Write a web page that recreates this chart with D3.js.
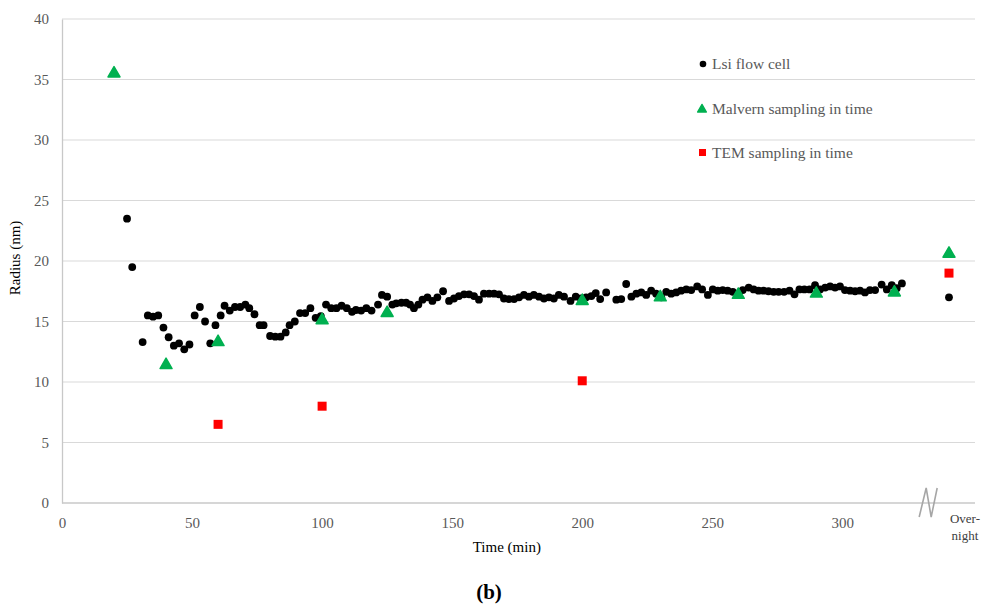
<!DOCTYPE html>
<html>
<head>
<meta charset="utf-8">
<script src="https://cdn.jsdelivr.net/npm/d3@7"></script>
<style>
  body { margin: 0; background: #fff; }
  svg text { font-family: "Liberation Serif", Tinos, "Times New Roman", "DejaVu Serif", serif !important; }
</style>
</head>
<body>
<div class="chart"></div>
<script>
// Lsi flow cell readings (min, nm)
var lsiTime = [25, 27, 31, 33, 35, 37, 39, 41, 43, 45, 47, 49, 51, 53, 55, 57, 59, 61, 62.5, 64.5,
    66.5, 68.5, 70.5, 72, 74, 76, 77.5, 80, 82, 84, 86, 87.5, 89.5, 91.5, 93.5, 95.5, 97.5, 99.5,
    101.5, 103.5, 105.5, 107.5, 109.5, 111.5, 113, 115, 117, 119, 121.5, 123, 125, 127, 128.5, 130.5,
    132.3, 133.8, 135.3, 137, 138.6, 140.5, 142.4, 144.3, 146.5, 148.8, 150.7, 152.6, 154.6, 156.5,
    158.4, 160.3, 162.2, 164.2, 166.1, 168, 169.9, 171.8, 173.8, 175.7, 177.6, 179.5, 181.4, 183.4,
    185.3, 187.2, 189.1, 191, 193, 195.5, 197.5, 199.5, 201.5, 203.5, 205.2, 206.9, 209.2, 213.1,
    215, 216.9, 218.9, 220.8, 222.7, 224.6, 226.5, 228.4, 230.4, 232.3, 234.2, 236.1, 238, 240,
    241.9, 244.2, 246.1, 248.3, 250.2, 252.1, 254, 255.9, 257.9, 259.8, 261.7, 264, 265.9, 267.8,
    269.7, 271.6, 273.6, 275.5, 277.6, 279.7, 281.6, 283.5, 285.4, 287.4, 289.5, 291.4, 293.4,
    295.3, 297.2, 299.1, 301, 303, 304.9, 306.8, 308.7, 310.6, 312.6, 315.1, 317.1, 319, 320.9, 322.9, 341];
var lsiRadius = [23.5, 19.5, 13.3, 15.5, 15.4, 15.5, 14.5, 13.7, 13.0, 13.2, 12.7, 13.1, 15.5, 16.2, 15.0, 13.2, 14.7, 15.5, 16.3, 15.9,
    16.2, 16.2, 16.4, 16.1, 15.6, 14.7, 14.7, 13.8, 13.75, 13.75, 14.1, 14.7, 15.0, 15.7, 15.7, 16.1, 15.3, 15.45,
    16.4, 16.1, 16.1, 16.3, 16.1, 15.8, 15.95, 15.9, 16.1, 15.9, 16.4, 17.2, 17.05, 16.4, 16.5, 16.55,
    16.55, 16.4, 16.1, 16.4, 16.8, 17.0, 16.7, 17.0, 17.5, 16.7, 16.9, 17.1, 17.25, 17.25,
    17.1, 16.8, 17.3, 17.3, 17.3, 17.25, 16.9, 16.85, 16.85, 17.0, 17.2, 17.05, 17.2, 17.05,
    16.9, 17.0, 16.9, 17.2, 17.05, 16.7, 17.05, 16.9, 17.0, 17.1, 17.35, 16.85, 17.4, 16.8,
    16.85, 18.1, 17.05, 17.3, 17.4, 17.2, 17.55, 17.3, 17.0, 17.45, 17.3, 17.4, 17.55, 17.65,
    17.6, 17.9, 17.65, 17.2, 17.65, 17.55, 17.6, 17.55, 17.45, 17.3, 17.6, 17.8, 17.65, 17.55,
    17.55, 17.5, 17.45, 17.45, 17.45, 17.55, 17.25, 17.65, 17.65, 17.65, 18.0, 17.65, 17.8,
    17.9, 17.8, 17.9, 17.6, 17.55, 17.5, 17.55, 17.4, 17.6, 17.6, 18.05, 17.65, 18.0, 17.75, 18.15, 17.0];

// Malvern sampling
var malvernTime = [20, 40, 60, 100, 125, 200, 230, 260, 290, 320, 341];
var malvernRadius = [35.5, 11.4, 13.3, 15.1, 15.7, 16.7, 17.0, 17.2, 17.3, 17.4, 20.6];

// TEM sampling
var temTime = [60, 100, 200, 341];
var temRadius = [6.5, 8.0, 10.1, 19.0];

var xTicks = [0, 50, 100, 150, 200, 250, 300];
var yTicks = [0, 5, 10, 15, 20, 25, 30, 35, 40];
var overnightTime = 341;
var legendLabels = ["Lsi flow cell", "Malvern sampling in time", "TEM sampling in time"];

var W = 983, H = 605;
var margin = {top: 19, right: 8, bottom: 102, left: 62};
var width = W - margin.left - margin.right;
var height = H - margin.top - margin.bottom;

var svg = d3.select(".chart").append("svg").attr("width", W).attr("height", H);
var g = svg.append("g").attr("transform", "translate(" + margin.left + "," + margin.top + ")");

var x = d3.scaleLinear().domain([0, 351]).range([0, width]);
var y = d3.scaleLinear().domain([0, 40]).range([height, 0]);

// gridlines
g.append("g").selectAll("line").data(yTicks.filter(function(d){ return d > 0; })).enter()
    .append("line")
    .attr("x1", 0).attr("x2", width)
    .attr("y1", function(d){ return y(d); }).attr("y2", function(d){ return y(d); })
    .attr("stroke", "#d9d9d9").attr("stroke-width", 1.2);

// axes
var xAxis = g.append("g").attr("transform", "translate(0," + height + ")")
    .call(d3.axisBottom(x).tickValues(xTicks).tickSize(0).tickPadding(14));
var yAxis = g.append("g").call(d3.axisLeft(y).tickValues(yTicks).tickSize(0).tickPadding(13));
[xAxis, yAxis].forEach(function(a){
    a.attr("font-family", null);
    a.select(".domain").attr("stroke", "#c8c8c8").attr("stroke-width", 1.3);
    a.selectAll("text").attr("fill", "#595959").style("font-size", "15px");
});
xAxis.select(".domain").attr("d", "M0,0H" + width);

// overnight label
var ov = g.append("text").attr("x", x(overnightTime) + 16).attr("y", height + 20)
    .attr("text-anchor", "middle").attr("fill", "#404040").style("font-size", "13px");
ov.append("tspan").attr("x", x(overnightTime) + 16).text("Over-");
ov.append("tspan").attr("x", x(overnightTime) + 16).attr("dy", 17).text("night");

// axis break
var bx = x(333);
g.append("path")
    .attr("d", "M" + (bx - 9) + "," + (height + 14) + "L" + (bx - 2) + "," + (height - 15) +
        "L" + (bx + 3) + "," + (height + 14) + "L" + (bx + 9) + "," + (height - 15))
    .attr("fill", "none").attr("stroke", "#a6a6a6").attr("stroke-width", 1.6);

// axis titles
g.append("text").attr("transform", "translate(-42," + (height / 2 - 3) + ") rotate(-90)")
    .attr("text-anchor", "middle").attr("fill", "#000").style("font-size", "15px").text("Radius (nm)");
g.append("text").attr("x", x(171)).attr("y", height + 49)
    .attr("text-anchor", "middle").attr("fill", "#000").style("font-size", "15px").text("Time (min)");
svg.append("text").attr("x", 489).attr("y", 599).attr("text-anchor", "middle")
    .attr("fill", "#000").style("font-size", "21px").style("font-weight", "bold").text("(b)");

// series
var tri = d3.symbol().type(d3.symbolTriangle);

g.append("g").selectAll("circle").data(lsiTime).enter().append("circle")
    .attr("cx", function(d){ return x(d); })
    .attr("cy", function(d, i){ return y(lsiRadius[i]); })
    .attr("r", 3.9).attr("fill", "#000");

g.append("g").selectAll("path").data(malvernTime).enter().append("path")
    .attr("d", tri.size(62)())
    .attr("transform", function(d, i){ return "translate(" + x(d) + "," + y(malvernRadius[i]) + ")"; })
    .attr("fill", "#00b050").attr("stroke", "#00b050").attr("stroke-width", 1.5).attr("stroke-linejoin", "round");

g.append("g").selectAll("rect").data(temTime).enter().append("rect")
    .attr("x", function(d){ return x(d) - 4.5; })
    .attr("y", function(d, i){ return y(temRadius[i]) - 4.5; })
    .attr("width", 9).attr("height", 9).attr("fill", "#ff0000");

// legend
var legend = svg.append("g").attr("transform", "translate(703,0)");
var ly = [64, 109, 153];
legend.append("circle").attr("cx", 0).attr("cy", ly[0]).attr("r", 3.3).attr("fill", "#000");
legend.append("path").attr("d", tri.size(34)()).attr("transform", "translate(-1," + (ly[1] + 0.5) + ")")
    .attr("fill", "#00b050").attr("stroke", "#00b050").attr("stroke-width", 1.3).attr("stroke-linejoin", "round");
legend.append("rect").attr("x", -4).attr("y", ly[2] - 4).attr("width", 7).attr("height", 7).attr("fill", "#ff0000");
legend.selectAll("text.lg").data(legendLabels).enter().append("text")
    .attr("class", "lg").attr("x", 9).attr("y", function(d, i){ return ly[i] + 5; })
    .attr("fill", "#595959").style("font-size", "15.5px").text(function(d){ return d; });
</script>
</body>
</html>
